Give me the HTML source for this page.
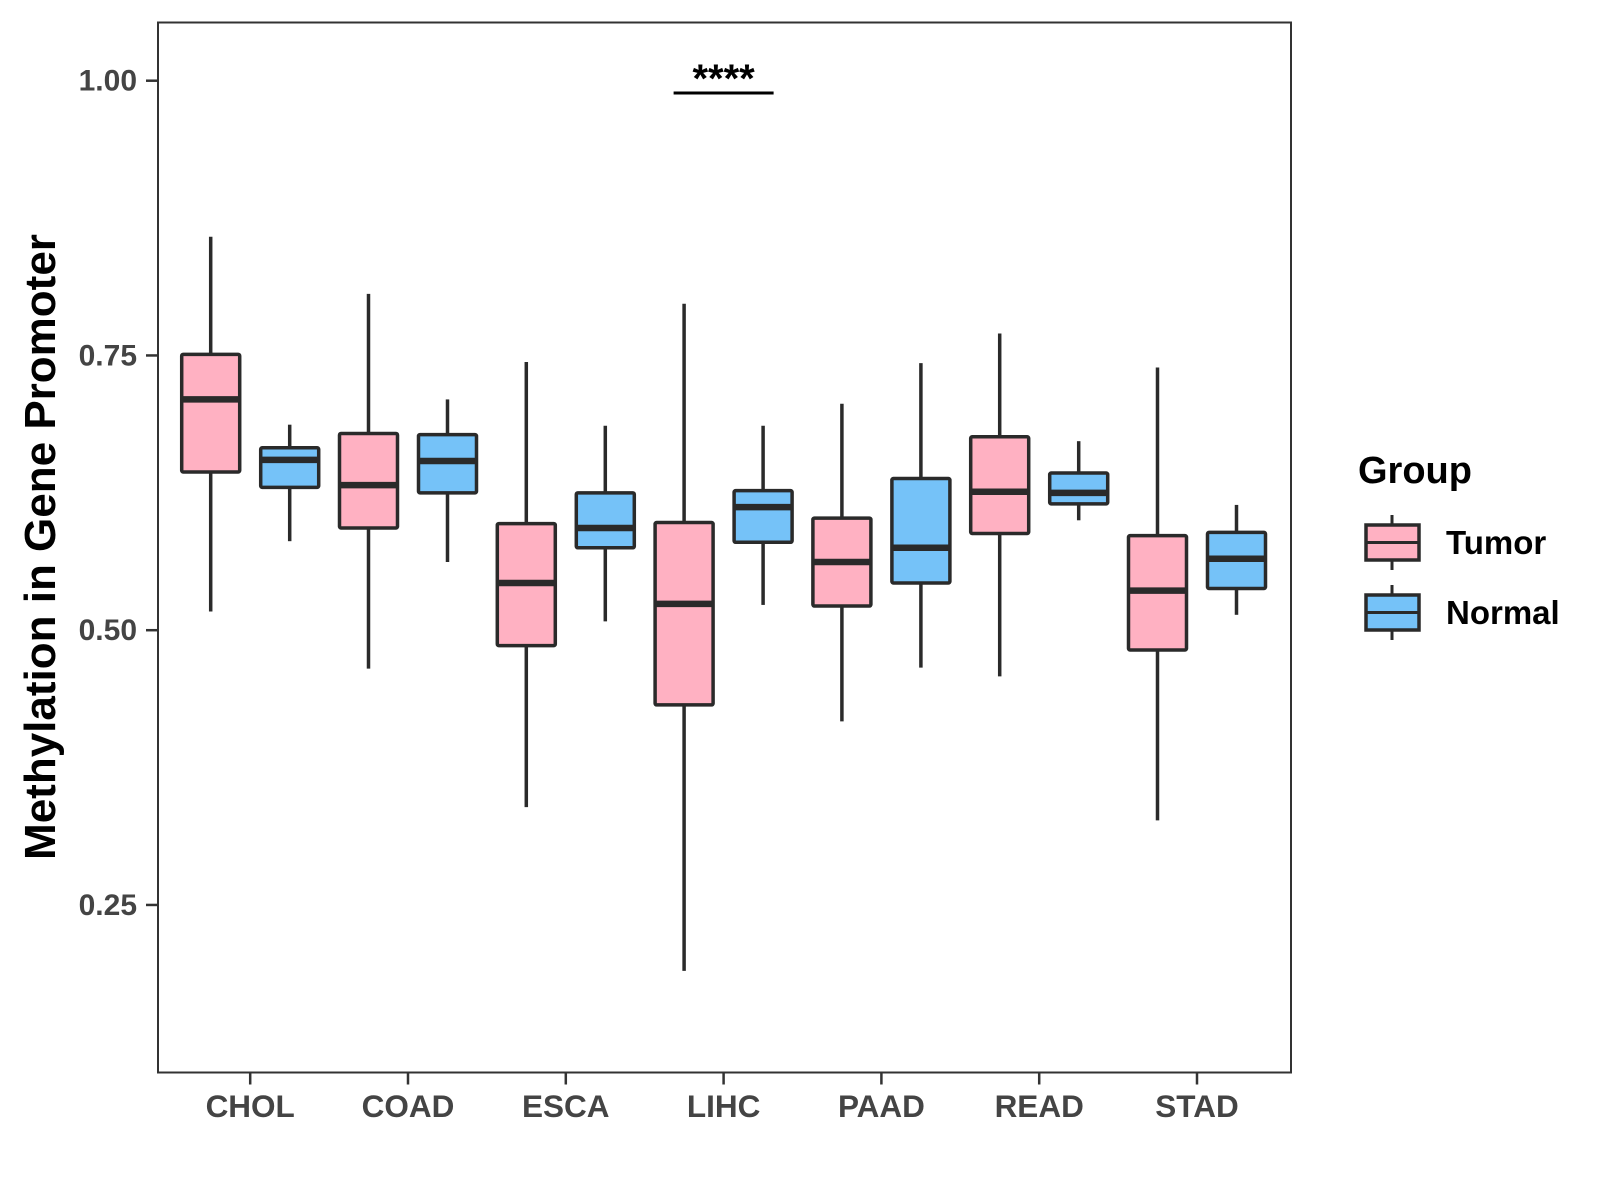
<!DOCTYPE html>
<html><head><meta charset="utf-8"><style>
body{margin:0;background:#fff}
svg{display:block;font-family:"Liberation Sans",Arial,sans-serif;font-weight:bold}
</style></head><body>
<svg id="chart" width="1600" height="1200" viewBox="0 0 1600 1200">
<g id="plot"></g>
</svg>
<script>
const categories=["CHOL","COAD","ESCA","LIHC","PAAD","READ","STAD"];
const tumorLow=[0.517,0.465,0.339,0.190,0.417,0.458,0.327];
const tumorQ1=[0.644,0.593,0.486,0.432,0.522,0.588,0.482];
const tumorMed=[0.710,0.632,0.543,0.524,0.562,0.626,0.536];
const tumorQ3=[0.751,0.679,0.597,0.598,0.602,0.676,0.586];
const tumorHigh=[0.858,0.806,0.744,0.797,0.706,0.770,0.739];
const normalLow=[0.581,0.562,0.508,0.523,0.466,0.600,0.514];
const normalQ1=[0.630,0.625,0.575,0.580,0.543,0.615,0.538];
const normalMed=[0.655,0.654,0.593,0.612,0.575,0.625,0.565];
const normalQ3=[0.666,0.678,0.625,0.627,0.638,0.643,0.589];
const normalHigh=[0.687,0.710,0.686,0.686,0.743,0.672,0.614];
const yTicks=[0.25,0.50,0.75,1.00];
const yTickLabels=["0.25","0.50","0.75","1.00"];
const sigCategory="LIHC";
const sigLabel="****";

const NS="http://www.w3.org/2000/svg";
const L=158,R=1291,T=22.5,B=1072.5;
const y=v=>80.7+(1-v)*1099;
const x=i=>250.2+i*157.8;
const g=document.getElementById('plot');
function mk(tag,attrs,parent){const e=document.createElementNS(NS,tag);for(const k in attrs)e.setAttribute(k,attrs[k]);(parent||g).appendChild(e);return e;}

const panel=mk('rect',{x:L,y:T,width:R-L,height:B-T,fill:'none',stroke:'#333','stroke-width':2});



yTicks.forEach((v,i)=>{
  const t=mk('line',{x1:146,x2:L,y1:y(v),y2:y(v),stroke:'#333','stroke-width':2.5});
  
  
  const lb=mk('text',{x:137,y:y(v)+10,'text-anchor':'end','font-size':30,fill:'#444'});
  lb.textContent=yTickLabels[i];
  
  
});
categories.forEach((c,i)=>{
  const t=mk('line',{x1:x(i),x2:x(i),y1:B,y2:B+12,stroke:'#333','stroke-width':2.5});
  
  
  const lb=mk('text',{x:x(i),y:1117,'text-anchor':'middle','font-size':31.5,fill:'#444'});
  lb.textContent=c;
  
  
});

function box(cx,lo,q1,md,q3,hi,fill,name){
  const gg=mk('g',{});
  
  
  mk('line',{x1:cx,x2:cx,y1:y(hi),y2:y(q3),stroke:'#2a2a2a','stroke-width':3.5},gg);
  mk('line',{x1:cx,x2:cx,y1:y(q1),y2:y(lo),stroke:'#2a2a2a','stroke-width':3.5},gg);
  mk('rect',{x:cx-29,y:y(q3),width:58,height:y(q1)-y(q3),fill:fill,stroke:'#2a2a2a','stroke-width':3.5,rx:1.5},gg);
  mk('line',{x1:cx-29,x2:cx+29,y1:y(md),y2:y(md),stroke:'#2a2a2a','stroke-width':6.5},gg);
}
categories.forEach((c,i)=>{
  box(x(i)-39.5,tumorLow[i],tumorQ1[i],tumorMed[i],tumorQ3[i],tumorHigh[i],'#FFB1C2','box-tumor-'+c.toLowerCase());
  box(x(i)+39.5,normalLow[i],normalQ1[i],normalMed[i],normalQ3[i],normalHigh[i],'#75C2F8','box-normal-'+c.toLowerCase());
});

const si=categories.indexOf(sigCategory);
const sl=mk('line',{x1:x(si)-50,x2:x(si)+50,y1:93,y2:93,stroke:'#000','stroke-width':3});


const st=mk('text',{x:x(si),y:92,'text-anchor':'middle','font-size':40,fill:'#000'});
st.textContent=sigLabel;



const yt=mk('text',{x:0,y:0,transform:'translate(55,547) rotate(-90)','text-anchor':'middle','font-size':44,fill:'#000'});
yt.textContent='Methylation in Gene Promoter';



const lt=mk('text',{x:1358,y:483,'font-size':38,fill:'#000'});
lt.textContent='Group';


[['Tumor','#FFB1C2',525],['Normal','#75C2F8',595]].forEach(([n,f,top])=>{
  const e=mk('g',{});
  
  
  mk('line',{x1:1392,x2:1392,y1:top-10,y2:top+45,stroke:'#2a2a2a','stroke-width':3},e);
  mk('rect',{x:1366,y:top,width:53,height:35,fill:f,stroke:'#2a2a2a','stroke-width':3.5},e);
  mk('line',{x1:1366,x2:1419,y1:top+17.5,y2:top+17.5,stroke:'#2a2a2a','stroke-width':3},e);
  const t=mk('text',{x:1446,y:top+29,'font-size':33,fill:'#000'},e);
  t.textContent=n;
});
</script>
</body></html>
